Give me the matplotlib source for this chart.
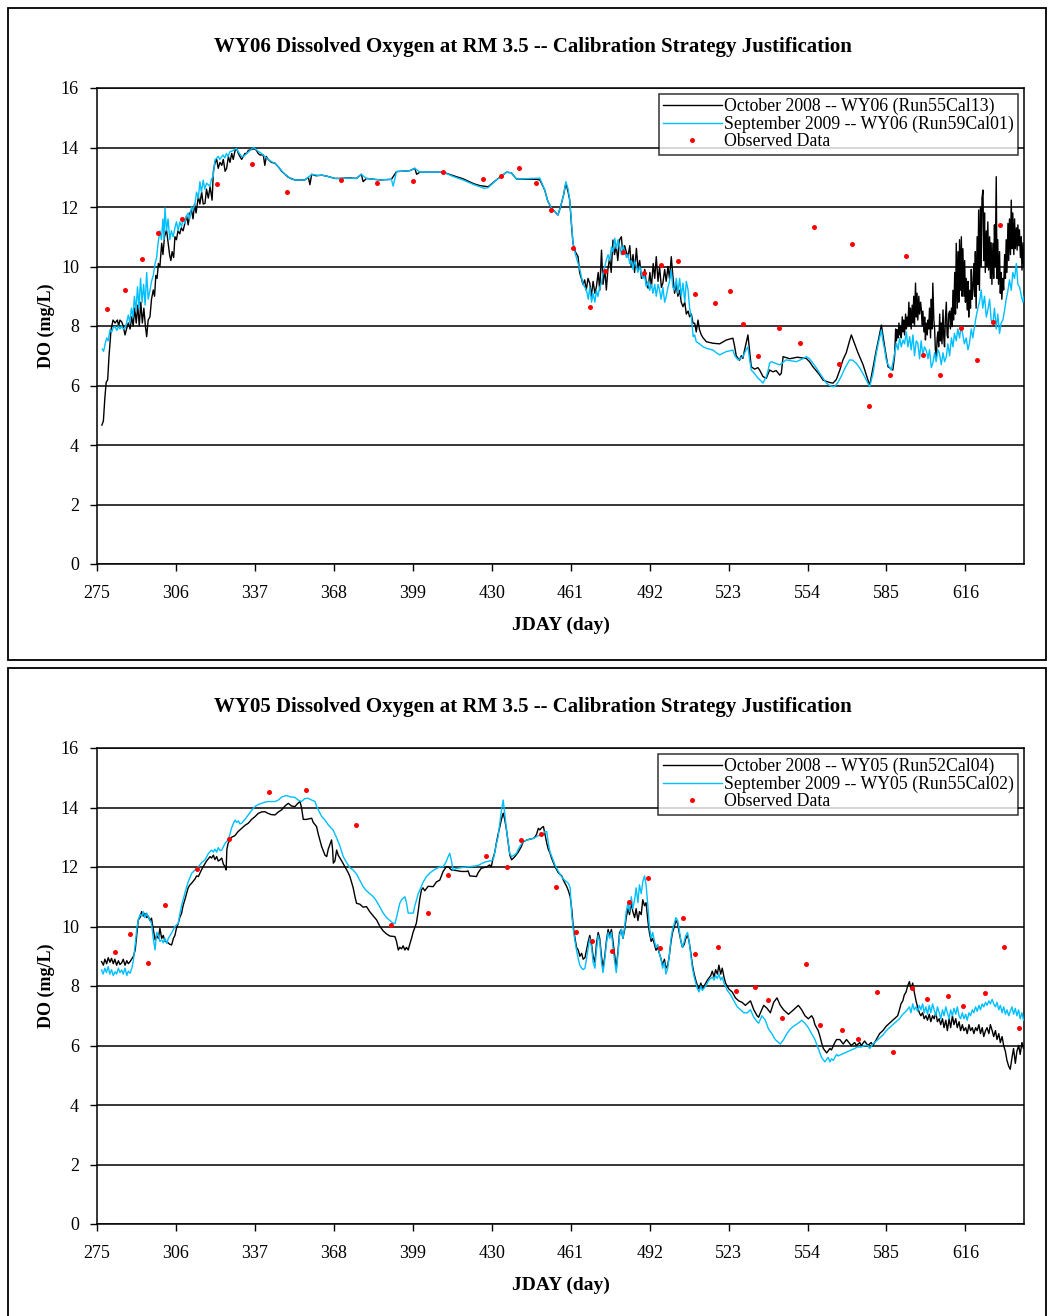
import numpy as np
import matplotlib
matplotlib.use("Agg")
import matplotlib.pyplot as plt
from matplotlib.patches import Rectangle

plt.rcParams['font.family'] = ['Liberation Serif', 'DejaVu Serif']

# ---- WY06 panel (top) ----
# (day, DO mg/L)
wy06_oct = [
    (276.9, 4.67), (277.5, 4.8), (278.1, 5.6), (278.6, 6.1), (279.2, 6.2), (279.7, 6.97), (280.5, 7.87),
    (281.3, 8.2), (282.1, 8.1), (283.0, 8.2), (283.5, 8.0), (284.0, 8.2), (284.7, 8.14), (285.3, 8.0),
    (286.0, 7.7), (286.6, 7.9), (287.3, 8.1), (288.0, 7.9), (288.6, 8.31), (289.2, 8.0), (289.8, 8.6),
    (290.4, 8.1), (291.0, 8.7), (291.6, 8.0), (292.2, 8.8), (292.8, 8.1), (293.4, 8.6), (294.0, 8.0),
    (294.5, 7.64), (295.1, 8.2), (295.8, 8.31), (296.4, 8.9), (297.1, 9.21), (297.6, 9.0), (298.1, 9.7),
    (298.6, 9.6), (299.1, 10.1), (299.7, 10.0), (300.4, 10.78), (300.9, 10.4), (301.5, 11.0), (302.3, 11.23),
    (302.9, 10.8), (303.5, 10.4), (304.0, 10.2), (304.5, 10.5), (305.1, 10.3), (305.6, 11.0), (306.2, 10.9),
    (306.8, 11.2), (307.5, 11.1), (308.1, 11.3), (308.8, 11.2), (309.5, 11.45), (310.2, 11.7), (310.8, 11.4),
    (311.5, 11.8), (312.1, 11.9), (312.7, 11.6), (313.3, 12.1), (313.9, 11.8), (314.8, 12.35), (315.4, 12.1),
    (316.1, 12.5), (316.7, 12.1), (317.4, 12.12), (318.0, 12.6), (318.7, 12.3), (319.4, 12.68), (320.2, 12.23),
    (320.7, 13.2), (321.3, 13.47), (322.0, 13.6), (322.6, 13.3), (323.3, 13.5), (324.0, 13.4), (324.6, 13.6),
    (325.3, 13.2), (325.9, 13.3), (326.6, 13.7), (327.2, 13.5), (327.9, 13.8), (328.5, 13.6), (329.2, 13.9),
    (329.8, 13.97), (330.5, 13.8), (331.1, 13.7), (331.8, 13.6), (332.4, 13.69), (333.1, 13.8), (333.8, 13.8),
    (334.4, 13.9), (336.3, 13.95), (337.0, 13.95), (337.6, 13.9), (338.3, 13.8), (339.0, 13.75), (340.3, 13.75),
    (340.9, 13.4), (341.5, 13.7), (342.2, 13.6), (343.5, 13.5), (344.9, 13.47), (346.2, 13.35), (347.5, 13.2),
    (348.8, 13.1), (350.1, 13.0), (351.4, 12.95), (352.7, 12.91), (355.3, 12.91), (356.6, 12.91), (358.0, 13.0),
    (358.6, 12.75), (359.3, 13.1), (361.0, 13.05), (363.2, 13.07), (365.1, 13.04), (368.4, 12.96), (370.4, 12.96),
    (374.0, 12.98), (376.9, 12.96), (378.8, 13.1), (379.5, 12.85), (380.8, 12.96), (386.1, 12.91), (390.6, 12.93),
    (392.6, 13.19), (397.8, 13.22), (399.8, 13.3), (400.5, 13.1), (401.8, 13.17), (410.9, 13.17), (415.0, 13.05),
    (418.7, 12.95), (423.0, 12.78), (425.3, 12.72), (428.6, 12.68), (431.8, 12.91), (435.8, 13.17), (437.7, 13.15),
    (439.7, 12.94), (447.5, 12.93), (448.9, 12.91), (450.8, 12.57), (452.0, 12.2), (453.5, 11.96), (456.0, 11.73),
    (457.0, 12.0), (458.2, 12.4), (459.1, 12.8), (460.0, 12.5), (460.6, 12.24), (461.4, 11.3), (461.9, 10.78),
    (462.8, 10.5), (463.9, 10.33), (464.5, 9.8), (465.2, 9.6), (465.8, 9.4), (466.5, 9.55), (467.1, 9.2),
    (467.8, 9.6), (468.5, 9.44), (469.1, 9.0), (469.8, 9.5), (470.5, 9.1), (471.1, 9.32), (471.8, 9.8),
    (472.4, 9.2), (473.1, 10.55), (473.7, 9.4), (474.4, 9.9), (475.0, 9.21), (475.6, 9.9), (476.3, 10.3),
    (476.9, 9.8), (477.6, 10.89), (478.2, 10.4), (478.9, 10.7), (479.5, 10.2), (480.2, 10.9), (480.9, 11.0),
    (481.5, 10.4), (482.2, 10.7), (482.8, 10.5), (483.5, 10.33), (484.2, 10.7), (484.8, 10.0), (485.5, 10.4),
    (486.1, 9.8), (486.8, 10.61), (487.5, 9.9), (488.1, 10.2), (488.8, 9.6), (489.4, 9.66), (490.1, 9.9),
    (490.7, 9.4), (491.4, 9.27), (492.1, 9.8), (492.7, 9.3), (493.4, 10.1), (494.0, 9.6), (494.6, 10.33),
    (495.3, 9.5), (495.9, 10.0), (496.6, 9.3), (497.2, 9.44), (497.9, 9.9), (498.5, 9.5), (499.2, 10.0),
    (499.8, 9.6), (500.5, 10.33), (501.1, 9.7), (501.8, 9.1), (502.4, 9.4), (503.1, 9.0), (503.8, 9.2),
    (504.4, 8.8), (505.1, 8.65), (505.8, 8.8), (506.4, 8.4), (507.1, 8.5), (507.7, 8.31), (508.4, 8.4),
    (509.0, 8.1), (509.7, 8.09), (510.3, 7.8), (511.0, 8.2), (511.6, 7.87), (512.3, 7.7), (513.0, 7.6),
    (514.3, 7.47), (516.9, 7.42), (519.5, 7.4), (522.1, 7.53), (524.7, 7.59), (525.4, 7.3), (526.0, 7.0),
    (527.3, 6.85), (528.0, 7.0), (528.6, 6.91), (529.3, 7.2), (530.6, 7.7), (531.2, 7.2), (531.9, 6.63),
    (533.2, 6.55), (534.5, 6.6), (535.2, 6.52), (536.5, 6.3), (537.8, 6.24), (539.1, 6.52), (540.4, 6.46),
    (541.7, 6.5), (543.1, 6.35), (543.7, 6.41), (544.4, 6.97), (547.0, 6.9), (550.0, 6.95), (553.5, 6.91),
    (554.8, 6.8), (556.1, 6.63), (557.4, 6.5), (558.8, 6.35), (560.1, 6.18), (562.7, 6.1), (564.0, 6.08),
    (565.3, 6.2), (566.6, 6.5), (567.9, 6.86), (569.2, 7.1), (570.5, 7.5), (571.2, 7.7), (572.5, 7.4),
    (573.8, 7.1), (575.8, 6.7), (577.7, 6.18), (578.4, 6.0), (579.7, 6.6), (581.0, 7.19), (582.0, 7.6),
    (583.0, 8.03), (583.6, 7.7), (584.3, 7.3), (585.6, 6.63), (587.5, 6.52), (588.2, 7.0), (588.6, 7.9),
    (588.9, 7.5), (589.2, 7.87), (589.5, 7.6), (589.9, 8.1), (590.2, 7.7), (590.5, 8.0), (590.8, 7.6),
    (591.2, 8.31), (591.5, 7.8), (591.8, 8.2), (592.1, 7.7), (592.5, 8.4), (592.8, 7.9), (593.1, 8.3),
    (593.4, 7.98), (593.8, 8.8), (594.1, 8.0), (594.4, 8.6), (594.7, 7.9), (595.1, 8.7), (595.4, 8.1),
    (595.7, 9.0), (596.0, 8.0), (596.4, 9.44), (596.7, 8.3), (597.0, 9.1), (597.3, 8.2), (597.7, 9.0),
    (598.0, 8.4), (598.4, 8.8), (598.7, 8.54), (599.0, 8.0), (599.3, 8.5), (599.7, 7.8), (600.0, 8.3),
    (600.3, 7.53), (600.6, 8.1), (601.0, 7.7), (601.3, 8.2), (601.6, 7.9), (601.9, 8.6), (602.3, 7.6),
    (602.6, 8.9), (602.9, 7.9), (603.2, 9.44), (603.6, 8.2), (603.9, 7.9), (604.2, 7.2), (604.6, 6.97),
    (604.9, 7.6), (605.2, 7.8), (605.5, 7.3), (605.9, 8.4), (606.2, 7.5), (606.5, 8.1), (606.8, 7.4),
    (607.2, 8.54), (607.5, 7.6), (607.8, 7.3), (608.1, 8.2), (608.5, 8.8), (608.8, 7.7), (609.1, 7.6),
    (609.4, 8.4), (609.8, 8.5), (610.1, 7.9), (610.5, 8.6), (610.8, 7.98), (611.1, 9.2), (611.4, 8.2),
    (611.8, 9.8), (612.1, 8.4), (612.4, 10.78), (612.8, 8.6), (613.1, 10.5), (613.4, 8.8), (613.7, 10.9),
    (614.1, 9.2), (614.4, 11.0), (614.7, 9.0), (615.0, 10.6), (615.4, 9.0), (615.7, 10.2), (616.0, 8.8),
    (616.3, 9.6), (616.7, 8.54), (617.0, 9.5), (617.3, 8.3), (617.6, 9.2), (618.0, 8.6), (618.3, 9.9),
    (618.6, 8.9), (618.9, 9.21), (619.3, 10.1), (619.6, 9.0), (619.9, 10.5), (620.2, 8.6), (620.6, 11.0),
    (620.9, 9.4), (621.2, 11.9), (621.5, 9.2), (621.9, 12.0), (622.2, 10.0), (622.5, 12.3), (622.9, 12.57),
    (623.2, 10.2), (623.5, 11.8), (623.8, 9.8), (624.2, 11.2), (624.5, 10.0), (624.8, 11.5), (625.1, 9.88),
    (625.5, 11.0), (625.8, 9.6), (626.1, 10.8), (626.4, 9.4), (626.8, 10.78), (627.1, 9.6), (627.4, 11.4),
    (627.7, 10.0), (628.1, 13.02), (628.4, 9.6), (628.7, 10.9), (629.0, 9.4), (629.4, 10.5), (629.7, 9.1),
    (630.0, 9.8), (630.3, 8.9), (630.7, 9.6), (631.0, 9.21), (631.4, 10.4), (631.7, 9.6), (632.0, 10.9),
    (632.3, 9.8), (632.7, 11.45), (633.0, 10.2), (633.3, 11.6), (633.7, 10.4), (634.0, 12.23), (634.3, 10.6),
    (634.6, 11.8), (635.0, 10.4), (635.3, 11.6), (635.6, 10.6), (636.0, 11.3), (636.3, 10.55), (636.6, 11.4),
    (636.9, 10.7), (637.2, 11.23), (637.6, 10.3), (637.9, 11.0), (638.2, 9.88), (638.6, 10.8), (638.9, 10.0),
]

wy06_sep = [
    (277.1, 7.22), (277.6, 7.15), (278.2, 7.4), (278.8, 7.6), (279.4, 7.5), (280.1, 7.87), (280.8, 7.8),
    (281.4, 7.95), (282.1, 7.98), (282.8, 7.85), (283.4, 8.0), (284.0, 7.9), (284.7, 8.0), (285.3, 7.9),
    (286.0, 7.93), (286.6, 8.1), (287.3, 8.37), (287.9, 8.1), (288.5, 8.6), (289.1, 8.3), (289.7, 9.0),
    (290.3, 8.5), (290.9, 9.32), (291.5, 8.6), (292.1, 9.6), (292.7, 8.8), (293.3, 9.4), (293.9, 8.7),
    (294.5, 9.8), (295.1, 8.9), (295.8, 9.2), (296.4, 9.5), (297.1, 9.7), (297.8, 10.1), (298.4, 10.3),
    (299.0, 10.8), (299.7, 11.2), (300.3, 10.9), (300.9, 11.6), (301.3, 10.9), (301.7, 11.97), (302.3, 11.2),
    (302.9, 11.6), (303.6, 10.9), (304.2, 11.2), (304.9, 11.0), (305.6, 11.3), (306.2, 11.5), (306.9, 11.2),
    (307.5, 11.5), (308.2, 11.34), (308.8, 11.6), (309.5, 11.45), (310.1, 11.7), (310.8, 11.8), (311.4, 11.6),
    (312.1, 12.0), (312.7, 11.9), (313.5, 12.13), (314.1, 12.5), (314.8, 12.3), (315.4, 12.85), (316.0, 12.5),
    (316.7, 12.9), (317.3, 12.6), (318.0, 12.8), (319.3, 12.7), (320.0, 12.95), (320.6, 13.02), (321.3, 13.58),
    (322.6, 13.7), (323.2, 13.6), (324.5, 13.75), (325.2, 13.65), (325.8, 13.8), (326.5, 13.7), (327.1, 13.85),
    (328.5, 13.9), (329.8, 13.97), (330.5, 13.85), (331.8, 13.7), (332.4, 13.69), (333.8, 13.8), (335.1, 13.9),
    (336.4, 14.0), (337.0, 13.97), (338.3, 13.87), (339.6, 13.8), (340.9, 13.7), (342.3, 13.6), (343.6, 13.52),
    (344.9, 13.47), (346.2, 13.35), (347.5, 13.22), (348.8, 13.1), (350.1, 13.02), (351.4, 12.93), (352.7, 12.91),
    (356.6, 12.91), (358.0, 13.0), (359.3, 13.1), (361.9, 13.06), (363.2, 13.07), (365.1, 13.04), (368.4, 12.96),
    (370.4, 12.96), (374.0, 12.97), (376.9, 12.96), (378.8, 13.1), (380.8, 12.96), (386.1, 12.91), (390.6, 12.93),
    (391.3, 12.7), (392.6, 13.19), (397.8, 13.22), (399.8, 13.3), (401.8, 13.17), (410.9, 13.17), (415.0, 13.02),
    (418.7, 12.91), (423.0, 12.75), (425.3, 12.68), (427.0, 12.63), (428.6, 12.65), (431.8, 12.91), (435.8, 13.17),
    (437.7, 13.15), (439.7, 12.94), (448.9, 12.97), (450.8, 12.57), (452.0, 12.2), (453.5, 11.96), (456.0, 11.73),
    (457.0, 12.0), (458.2, 12.4), (459.1, 12.85), (460.0, 12.6), (460.6, 12.24), (461.3, 11.5), (461.9, 10.78),
    (462.9, 10.4), (463.9, 10.1), (464.6, 9.9), (465.2, 9.66), (465.9, 9.4), (466.6, 9.3), (467.2, 9.21),
    (467.9, 8.9), (468.5, 9.3), (469.2, 8.8), (469.8, 9.1), (470.5, 8.8), (471.1, 9.2), (471.7, 8.99),
    (472.4, 9.3), (473.1, 9.44), (473.7, 9.8), (474.4, 10.0), (475.0, 10.22), (475.7, 10.4), (476.3, 10.2),
    (477.0, 10.66), (477.6, 10.5), (478.3, 10.95), (478.9, 10.6), (479.6, 10.9), (480.3, 10.66), (480.9, 10.4),
    (481.6, 10.7), (482.2, 10.5), (482.9, 10.3), (483.5, 10.4), (484.2, 10.1), (484.8, 10.2), (485.5, 9.9),
    (486.1, 10.2), (486.8, 10.0), (487.4, 9.8), (488.1, 10.0), (488.7, 9.77), (489.4, 9.6), (490.0, 9.7),
    (490.7, 9.32), (491.4, 9.5), (492.0, 9.2), (492.7, 9.4), (493.3, 9.1), (494.0, 9.4), (494.6, 9.0),
    (495.3, 9.4), (495.9, 9.21), (496.5, 8.9), (497.2, 9.3), (497.9, 8.8), (498.5, 8.99), (499.2, 9.3),
    (499.8, 9.5), (500.5, 9.88), (501.1, 9.3), (501.8, 9.21), (502.5, 9.6), (503.1, 9.1), (503.8, 9.6),
    (504.4, 9.0), (505.1, 9.44), (505.8, 8.8), (506.4, 9.5), (507.1, 9.21), (507.7, 8.6), (508.4, 8.3),
    (509.1, 7.64), (509.7, 7.7), (510.3, 7.47), (511.6, 7.4), (513.0, 7.3), (514.3, 7.25), (516.9, 7.19),
    (518.2, 7.1), (519.5, 7.03), (522.1, 7.14), (524.7, 7.19), (525.4, 7.0), (526.7, 6.86), (528.6, 6.97),
    (529.9, 7.2), (530.6, 7.3), (531.2, 6.9), (531.9, 6.52), (533.2, 6.4), (534.5, 6.25), (535.8, 6.15),
    (536.5, 6.08), (537.8, 6.3), (538.5, 6.5), (539.1, 6.75), (539.8, 6.8), (543.1, 6.69), (545.6, 6.86),
    (549.6, 6.8), (552.2, 6.9), (553.5, 6.97), (554.8, 6.9), (556.1, 6.75), (557.4, 6.6), (558.8, 6.41),
    (560.1, 6.25), (561.4, 6.08), (562.7, 6.0), (564.0, 5.96), (564.6, 5.96), (565.9, 6.1), (567.2, 6.3),
    (568.5, 6.55), (569.8, 6.75), (570.5, 6.86), (571.8, 6.85), (573.1, 6.75), (574.4, 6.6), (575.7, 6.41),
    (577.0, 6.2), (578.4, 5.96), (579.7, 6.4), (581.0, 7.08), (582.0, 7.5), (583.0, 7.87), (583.6, 7.5),
    (584.3, 7.2), (584.9, 6.86), (585.6, 6.7), (586.9, 6.52), (587.6, 6.8), (588.2, 7.1), (588.9, 7.42),
    (589.5, 7.2), (590.2, 7.6), (590.8, 7.3), (591.5, 7.53), (592.1, 7.4), (592.8, 7.8), (593.4, 7.3),
    (594.1, 7.64), (594.7, 7.2), (595.4, 7.7), (596.0, 7.0), (596.7, 7.5), (597.3, 7.42), (598.0, 6.9),
    (598.6, 7.5), (599.3, 7.0), (599.9, 7.3), (600.6, 7.19), (601.3, 6.9), (601.9, 7.2), (602.6, 6.6),
    (603.2, 6.75), (603.9, 7.1), (604.5, 6.8), (605.2, 7.2), (605.8, 7.08), (606.5, 6.7), (607.2, 7.1),
    (607.8, 6.8), (608.5, 6.97), (609.1, 7.4), (609.8, 7.0), (610.5, 7.6), (611.1, 7.3), (611.7, 7.75),
    (612.4, 7.5), (613.0, 7.9), (613.7, 7.6), (614.3, 7.98), (615.0, 7.7), (615.6, 7.4), (616.3, 7.6),
    (617.0, 7.2), (617.6, 7.42), (618.3, 7.9), (618.9, 7.6), (619.6, 8.0), (620.2, 8.31), (620.9, 8.6),
    (621.5, 8.8), (622.2, 9.21), (622.8, 8.6), (623.5, 9.0), (624.2, 8.3), (624.8, 8.54), (625.5, 8.9),
    (626.1, 8.2), (626.8, 8.09), (627.4, 8.6), (628.1, 7.9), (628.7, 8.4), (629.4, 7.75), (630.0, 8.1),
    (630.7, 8.2), (631.4, 8.54), (632.0, 8.9), (632.7, 9.2), (633.3, 9.55), (634.0, 9.2), (634.6, 9.8),
    (635.3, 9.6), (636.0, 10.1), (636.6, 9.4), (637.3, 9.3), (638.0, 8.99), (638.6, 8.8), (639.0, 9.0),
]

wy06_obs_day = [278.9, 286.0, 292.7, 298.9, 308.4, 322.1, 335.8, 349.6, 370.8, 384.9, 399.0, 410.8,
                426.5, 433.6, 440.6, 447.3, 453.2, 461.8, 468.5, 474.4, 481.4, 489.7, 496.4, 503.0,
                509.7, 517.5, 523.4, 528.5, 534.4, 542.7, 550.9, 556.4, 566.2, 571.3, 578.0, 586.2,
                592.5, 599.2, 606.2, 614.1, 620.4, 627.0, 629.4]
wy06_obs_do = [8.57, 9.21, 10.25, 11.13, 11.6, 12.77, 13.45, 12.5, 12.9, 12.8, 12.87, 13.18,
               12.94, 13.04, 13.31, 12.81, 11.9, 10.62, 8.64, 9.85, 10.49, 9.78, 10.05, 10.18,
               9.08, 8.77, 9.18, 8.07, 6.99, 7.93, 7.43, 11.33, 6.72, 10.76, 5.31, 6.35,
               10.35, 7.03, 6.35, 7.93, 6.86, 8.13, 11.39]

# ---- WY05 panel (bottom) ----
wy05_oct = [
    (276.8, 8.82), (277.5, 8.7), (278.1, 8.9), (278.8, 8.75), (279.4, 8.95), (280.1, 8.8), (280.7, 8.93),
    (281.4, 8.75), (282.0, 8.9), (282.7, 8.7), (283.4, 8.85), (284.0, 8.72), (284.7, 8.78), (285.3, 8.9),
    (286.0, 8.7), (286.7, 8.85), (287.3, 8.75), (288.0, 8.82), (288.6, 8.9), (289.3, 9.0), (290.0, 9.21),
    (290.6, 9.7), (291.2, 10.22), (291.9, 10.3), (292.5, 10.5), (293.2, 10.35), (293.8, 10.44), (294.5, 10.3),
    (295.1, 10.35), (295.8, 10.2), (296.4, 10.28), (297.1, 9.9), (297.8, 9.55), (298.4, 9.7), (299.1, 9.6),
    (299.7, 9.94), (300.4, 9.6), (301.0, 9.7), (301.7, 9.5), (302.4, 9.49), (303.6, 9.4), (304.3, 9.38),
    (305.0, 9.6), (305.6, 9.7), (306.2, 9.94), (306.9, 10.1), (307.5, 10.3), (308.2, 10.44), (308.8, 10.7),
    (309.5, 10.9), (310.2, 11.12), (310.8, 11.3), (311.5, 11.4), (312.1, 11.45), (313.5, 11.6), (314.1, 11.7),
    (314.8, 11.68), (316.0, 11.9), (316.7, 12.01), (318.0, 12.2), (319.4, 12.35), (320.0, 12.3), (320.7, 12.4),
    (321.3, 12.25), (322.0, 12.35), (322.6, 12.2), (323.3, 12.24), (324.0, 12.3), (324.6, 12.1), (325.3, 12.01),
    (325.7, 11.9), (326.0, 12.6), (326.5, 12.8), (327.8, 13.0), (329.1, 13.05), (330.4, 13.19), (331.8, 13.3),
    (333.1, 13.4), (334.4, 13.47), (335.7, 13.6), (337.0, 13.69), (338.3, 13.8), (339.6, 13.85), (340.9, 13.86),
    (342.2, 13.8), (343.5, 13.76), (344.9, 13.75), (346.2, 13.85), (347.5, 13.92), (348.8, 14.05), (350.1, 14.14),
    (351.4, 14.05), (352.7, 14.03), (354.0, 14.15), (354.7, 14.2), (355.3, 14.0), (356.0, 13.6), (357.3, 13.6),
    (359.3, 13.64), (359.9, 13.5), (361.2, 13.36), (361.9, 13.1), (363.2, 12.69), (364.5, 12.4), (365.2, 12.35),
    (365.8, 12.6), (367.1, 12.91), (367.5, 12.6), (367.8, 12.13), (368.4, 12.2), (369.1, 12.57), (369.7, 12.4),
    (371.1, 12.2), (372.4, 12.0), (373.7, 11.8), (374.3, 11.68), (375.6, 11.3), (376.3, 11.0), (376.9, 10.78),
    (378.2, 10.75), (379.5, 10.65), (380.8, 10.67), (382.1, 10.5), (383.5, 10.35), (384.8, 10.22), (386.1, 10.0),
    (387.4, 9.85), (388.7, 9.75), (390.0, 9.68), (392.0, 9.66), (392.6, 9.5), (393.3, 9.21), (393.9, 9.3),
    (394.6, 9.25), (395.2, 9.35), (395.9, 9.21), (396.5, 9.3), (397.2, 9.21), (397.8, 9.4), (398.5, 9.6),
    (399.1, 9.8), (400.4, 10.11), (401.1, 10.5), (401.7, 10.9), (402.4, 11.23), (403.0, 11.3), (403.7, 11.2),
    (405.0, 11.35), (407.0, 11.34), (408.3, 11.5), (409.6, 11.56), (410.9, 11.85), (412.2, 12.01), (412.9, 12.01),
    (414.2, 11.9), (416.1, 11.88), (418.1, 11.85), (420.1, 11.85), (420.7, 11.87), (421.4, 11.7), (424.0, 11.68),
    (424.6, 11.8), (425.9, 11.96), (427.9, 12.0), (429.2, 12.07), (429.8, 12.0), (430.5, 12.29), (431.2, 12.5),
    (431.8, 12.8), (432.5, 13.1), (433.2, 13.36), (433.8, 13.6), (434.5, 13.81), (435.1, 13.6), (435.8, 13.24),
    (436.5, 12.8), (437.1, 12.4), (437.8, 12.24), (439.1, 12.35), (440.4, 12.5), (441.7, 12.7), (442.4, 12.86),
    (443.7, 12.9), (445.0, 12.94), (446.3, 12.96), (446.9, 13.0), (447.6, 13.1), (448.3, 13.3), (448.9, 13.25),
    (449.6, 13.32), (450.3, 13.36), (450.9, 13.1), (451.6, 12.8), (452.2, 12.6), (452.9, 12.46), (453.5, 12.3),
    (454.9, 12.0), (456.2, 11.8), (457.5, 11.7), (458.1, 11.56), (459.4, 11.35), (460.1, 11.2), (460.8, 11.0),
    (461.4, 10.6), (462.0, 10.0), (462.7, 9.6), (463.3, 9.3), (464.0, 9.2), (464.6, 9.0), (465.3, 9.1),
    (465.9, 8.9), (466.6, 8.95), (467.2, 9.2), (467.9, 9.5), (468.5, 9.7), (469.2, 9.4), (469.8, 9.0),
    (470.5, 8.8), (471.1, 9.4), (471.8, 9.8), (472.4, 9.6), (473.1, 9.0), (473.7, 8.6), (474.4, 9.0),
    (475.0, 9.5), (475.7, 9.9), (476.3, 9.7), (477.0, 9.9), (477.6, 9.5), (478.3, 9.0), (478.9, 8.6),
    (479.6, 9.2), (480.2, 9.8), (480.9, 9.9), (481.5, 9.6), (482.2, 9.9), (482.8, 10.3), (483.5, 10.6),
    (484.1, 10.4), (484.8, 10.8), (485.4, 10.5), (486.1, 10.3), (486.7, 10.6), (487.4, 10.2), (488.0, 10.5),
    (488.7, 10.4), (489.3, 10.9), (490.0, 10.7), (490.6, 10.8), (491.3, 10.2), (491.9, 9.8), (492.6, 9.5),
    (493.2, 9.6), (493.9, 9.4), (494.5, 9.2), (495.2, 9.3), (495.8, 9.1), (496.5, 8.9), (497.1, 8.7),
    (497.8, 8.9), (498.4, 8.6), (499.1, 8.7), (499.7, 9.0), (500.4, 9.5), (501.0, 9.8), (501.7, 10.0),
    (502.3, 10.2), (503.0, 10.1), (503.6, 9.8), (504.3, 9.5), (504.9, 9.3), (505.6, 9.4), (506.2, 9.6),
    (506.9, 9.7), (507.5, 9.5), (508.2, 9.1), (508.8, 8.7), (509.5, 8.4), (510.1, 8.2), (510.8, 8.0),
    (511.4, 7.9), (512.1, 8.1), (512.7, 7.9), (513.4, 8.0), (514.7, 8.2), (516.0, 8.35), (516.6, 8.5),
    (517.3, 8.3), (517.9, 8.55), (518.6, 8.4), (519.2, 8.7), (519.9, 8.4), (520.5, 8.6), (521.2, 8.3),
    (521.8, 8.1), (523.1, 7.9), (524.4, 7.8), (525.7, 7.6), (527.0, 7.5), (528.3, 7.45), (529.6, 7.35),
    (530.9, 7.45), (531.6, 7.5), (532.9, 7.2), (534.2, 7.0), (534.8, 6.95), (535.5, 7.1), (536.8, 7.35),
    (538.1, 7.25), (539.4, 7.1), (540.7, 7.45), (542.0, 7.6), (543.3, 7.35), (544.6, 7.2), (546.5, 7.05),
    (548.5, 7.2), (550.4, 7.35), (551.7, 7.2), (553.0, 7.0), (554.3, 6.9), (555.6, 7.0), (556.3, 6.9),
    (556.9, 6.7), (558.2, 6.5), (558.9, 6.3), (559.5, 6.1), (560.2, 5.9), (561.5, 5.75), (562.8, 5.9),
    (563.4, 5.85), (564.7, 6.1), (565.4, 6.2), (566.7, 6.2), (568.0, 6.05), (569.3, 6.2), (571.2, 6.0),
    (572.5, 6.1), (573.2, 6.0), (574.5, 6.1), (575.1, 6.0), (576.4, 6.15), (577.7, 6.0), (579.0, 6.1),
    (579.7, 6.0), (581.0, 6.2), (582.3, 6.4), (583.6, 6.5), (584.9, 6.65), (586.2, 6.75), (587.5, 6.85),
    (588.8, 6.95), (589.4, 7.0), (590.1, 7.2), (590.7, 7.4), (591.4, 7.5), (592.0, 7.7), (592.7, 7.8),
    (593.3, 8.0), (594.0, 8.15), (594.6, 7.9), (595.3, 8.1), (595.9, 7.8), (596.6, 7.5), (597.2, 7.3),
    (597.9, 7.1), (598.5, 7.0), (599.2, 7.1), (599.8, 6.9), (600.5, 7.0), (601.1, 6.85), (601.8, 7.05),
    (602.4, 6.8), (603.1, 7.0), (603.7, 6.9), (604.4, 7.1), (605.0, 6.8), (605.7, 6.9), (606.3, 6.7),
    (607.0, 6.9), (607.6, 6.6), (608.3, 6.85), (608.9, 6.5), (609.6, 6.9), (610.2, 6.6), (610.9, 7.0),
    (611.5, 6.7), (612.2, 6.9), (612.8, 6.6), (613.5, 6.8), (614.1, 6.5), (614.8, 6.7), (615.4, 6.5),
    (616.1, 6.6), (616.7, 6.4), (617.4, 6.7), (618.0, 6.5), (618.7, 6.6), (619.3, 6.4), (620.0, 6.6),
    (620.6, 6.5), (621.3, 6.7), (621.9, 6.4), (622.6, 6.6), (623.2, 6.3), (623.9, 6.5), (624.5, 6.6),
    (625.2, 6.4), (625.8, 6.7), (626.5, 6.5), (627.1, 6.3), (627.8, 6.5), (628.4, 6.2), (629.1, 6.4),
    (629.7, 6.1), (630.4, 6.3), (631.0, 6.0), (631.7, 5.8), (632.3, 5.5), (633.0, 5.3), (633.6, 5.2),
    (634.3, 5.6), (634.9, 5.9), (635.6, 5.4), (636.2, 5.8), (636.9, 6.0), (637.5, 5.7), (638.2, 6.1),
    (638.8, 5.9),
]

wy05_sep = [
    (276.8, 8.54), (277.4, 8.4), (278.1, 8.6), (278.7, 8.45), (279.4, 8.65), (280.0, 8.4), (280.7, 8.55),
    (281.4, 8.35), (282.1, 8.48), (282.7, 8.4), (283.4, 8.6), (284.0, 8.45), (284.7, 8.54), (285.3, 8.4),
    (286.0, 8.6), (286.7, 8.35), (287.3, 8.5), (288.0, 8.43), (288.7, 8.6), (289.3, 8.87), (290.0, 9.4),
    (290.6, 9.9), (291.2, 10.22), (291.9, 10.4), (292.5, 10.35), (293.2, 10.5), (293.8, 10.3), (294.5, 10.45),
    (295.1, 10.34), (295.8, 10.2), (296.4, 10.11), (297.1, 9.6), (297.8, 9.21), (298.4, 9.8), (299.1, 9.71),
    (299.7, 9.5), (300.4, 9.55), (301.0, 9.45), (301.7, 9.6), (302.4, 9.43), (303.0, 9.6), (304.3, 9.78),
    (305.6, 10.0), (306.9, 10.11), (307.5, 10.4), (308.2, 10.7), (309.5, 11.12), (310.8, 11.5), (312.2, 11.79),
    (313.5, 11.9), (314.8, 12.01), (316.1, 12.15), (317.4, 12.24), (318.7, 12.45), (320.0, 12.57), (320.7, 12.5),
    (321.3, 12.6), (322.0, 12.5), (322.6, 12.65), (323.3, 12.55), (324.0, 12.57), (325.3, 12.8), (326.5, 12.91),
    (327.2, 13.1), (327.8, 13.3), (328.5, 13.45), (329.2, 13.58), (329.8, 13.5), (330.5, 13.55), (331.1, 13.45),
    (331.8, 13.47), (333.1, 13.6), (334.4, 13.75), (335.7, 13.9), (337.0, 14.03), (338.3, 14.1), (339.6, 14.14),
    (340.9, 14.18), (342.2, 14.2), (344.9, 14.2), (346.2, 14.25), (347.5, 14.35), (348.8, 14.39), (349.4, 14.4),
    (350.8, 14.36), (352.7, 14.34), (354.0, 14.25), (355.3, 14.2), (356.6, 14.3), (357.9, 14.31), (359.3, 14.25),
    (360.6, 14.2), (361.2, 14.05), (361.9, 13.92), (363.2, 13.7), (364.5, 13.58), (365.8, 13.42), (367.1, 13.3),
    (367.7, 13.24), (369.0, 13.0), (370.4, 12.7), (371.7, 12.35), (373.0, 12.15), (374.3, 11.98), (375.6, 11.9),
    (377.0, 11.75), (378.2, 11.55), (379.5, 11.34), (380.8, 11.2), (382.2, 11.1), (383.5, 11.0), (384.8, 10.85),
    (386.1, 10.65), (387.4, 10.45), (388.7, 10.3), (390.0, 10.2), (391.3, 10.11), (392.0, 10.1), (392.6, 10.3),
    (393.3, 10.55), (393.9, 10.78), (394.6, 10.9), (395.9, 11.0), (396.5, 10.8), (397.2, 10.45), (399.2, 10.45),
    (399.8, 10.7), (400.5, 10.9), (401.1, 11.1), (401.8, 11.23), (403.1, 11.5), (404.4, 11.68), (405.7, 11.8),
    (407.0, 11.88), (408.3, 11.95), (409.6, 12.0), (410.9, 12.01), (411.6, 12.1), (412.2, 12.2), (412.9, 12.35),
    (413.5, 12.46), (414.2, 12.2), (414.8, 11.9), (416.2, 11.95), (418.1, 11.98), (420.1, 12.0), (422.0, 12.02),
    (424.0, 12.04), (425.3, 12.08), (426.6, 12.14), (427.9, 12.18), (429.2, 12.2), (430.6, 12.24), (431.2, 12.5),
    (431.9, 12.8), (432.5, 13.02), (433.2, 13.5), (433.8, 13.9), (434.5, 14.25), (435.1, 13.8), (435.8, 13.24),
    (436.5, 12.8), (437.1, 12.45), (437.8, 12.35), (439.1, 12.42), (439.7, 12.46), (440.4, 12.6), (441.7, 12.78),
    (442.4, 12.86), (443.7, 12.9), (445.0, 12.94), (446.3, 12.96), (447.6, 13.02), (448.9, 13.08), (450.3, 13.13),
    (450.9, 13.19), (451.6, 13.19), (452.2, 12.8), (452.9, 12.5), (453.6, 12.35), (454.9, 12.05), (455.5, 11.96),
    (456.8, 11.75), (458.1, 11.6), (459.4, 11.5), (460.1, 11.45), (460.8, 11.3),
    (461.4, 10.4), (462.0, 9.9), (462.7, 9.5), (463.3, 9.2), (464.0, 8.9), (464.6, 8.7), (465.3, 8.6),
    (465.9, 8.55), (466.6, 8.6), (467.2, 8.9), (467.9, 9.3), (468.5, 9.6), (469.2, 9.3), (469.8, 8.8),
    (470.5, 8.6), (471.1, 9.2), (471.8, 9.7), (472.4, 9.5), (473.1, 8.8), (473.7, 8.45), (474.4, 8.9),
    (475.0, 9.4), (475.7, 9.8), (476.3, 9.6), (477.0, 9.8), (477.6, 9.3), (478.3, 8.8), (478.9, 8.45),
    (479.6, 9.1), (480.2, 9.7), (480.9, 9.9), (481.5, 9.6), (482.2, 10.0), (482.8, 10.5), (483.5, 10.8),
    (484.1, 10.5), (484.8, 11.0), (485.4, 10.6), (486.1, 10.9), (486.7, 11.3), (487.4, 10.8), (488.0, 11.4),
    (488.7, 11.1), (489.3, 11.5), (490.0, 11.7), (490.6, 11.4), (491.3, 10.7), (491.9, 10.0), (492.6, 9.6),
    (493.2, 9.8), (493.9, 9.5), (494.5, 9.3), (495.2, 9.4), (495.8, 9.1), (496.5, 8.9), (497.1, 8.6),
    (497.8, 8.8), (498.4, 8.4), (499.1, 8.6), (499.7, 9.0), (500.4, 9.6), (501.0, 9.9), (501.7, 10.1),
    (502.3, 10.3), (503.0, 10.2), (503.6, 9.9), (504.3, 9.5), (504.9, 9.3), (505.6, 9.5), (506.2, 9.7),
    (506.9, 9.8), (507.5, 9.5), (508.2, 9.0), (508.8, 8.6), (509.5, 8.3), (510.1, 8.1), (510.8, 7.9),
    (511.4, 7.8), (512.1, 8.0), (512.7, 7.85), (514.0, 8.0), (515.3, 8.2), (516.6, 8.3), (517.3, 8.2),
    (517.9, 8.35), (518.6, 8.25), (519.2, 8.4), (519.9, 8.2), (520.5, 8.3), (521.2, 8.1), (522.5, 7.85),
    (523.8, 7.7), (525.1, 7.5), (526.4, 7.3), (527.7, 7.2), (529.0, 7.1), (530.3, 7.1), (531.6, 7.2),
    (532.9, 6.95), (534.2, 6.8), (534.8, 6.75), (536.1, 7.0), (537.4, 6.85), (538.7, 6.55), (540.0, 6.4),
    (541.3, 6.2), (542.6, 6.1), (543.3, 6.05), (544.6, 6.2), (545.9, 6.4), (547.2, 6.55), (548.5, 6.65),
    (549.8, 6.72), (551.1, 6.8), (551.7, 6.85), (553.0, 6.75), (554.3, 6.6), (555.6, 6.4), (556.9, 6.2),
    (558.2, 5.9), (559.5, 5.6), (560.8, 5.45), (562.1, 5.6), (562.8, 5.45), (563.4, 5.55), (564.1, 5.5),
    (565.4, 5.7), (566.0, 5.65), (567.3, 5.7), (568.6, 5.75), (569.9, 5.8), (571.2, 5.85), (572.5, 5.9),
    (573.8, 5.95), (575.1, 5.95), (576.4, 6.0), (577.7, 6.0), (578.4, 5.9), (579.7, 6.05), (581.0, 6.15),
    (582.3, 6.25), (583.6, 6.35), (584.9, 6.5), (586.2, 6.6), (587.5, 6.7), (588.8, 6.8), (590.1, 6.9),
    (591.4, 7.05), (592.7, 7.15), (594.0, 7.3), (594.6, 7.1), (595.3, 7.4), (595.9, 7.2), (596.6, 7.3),
    (597.2, 7.15), (597.9, 7.35), (598.5, 7.2), (599.2, 7.4), (599.8, 7.1), (600.5, 7.3), (601.1, 7.05),
    (601.8, 7.35), (602.4, 7.1), (603.1, 7.4), (603.7, 7.2), (604.4, 7.0), (605.0, 7.3), (605.7, 7.1),
    (606.3, 6.9), (607.0, 7.2), (607.6, 7.0), (608.3, 7.3), (608.9, 7.1), (609.6, 6.9), (610.2, 7.2),
    (610.9, 7.0), (611.5, 7.25), (612.2, 7.05), (612.8, 7.3), (613.5, 7.0), (614.1, 6.9), (614.8, 7.1),
    (615.4, 6.9), (616.1, 7.05), (616.7, 6.85), (617.4, 7.1), (618.0, 7.0), (618.7, 7.2), (619.3, 7.1),
    (620.0, 7.3), (620.6, 7.15), (621.3, 7.35), (621.9, 7.2), (622.6, 7.4), (623.2, 7.3), (623.9, 7.45),
    (624.5, 7.35), (625.2, 7.5), (625.8, 7.4), (626.5, 7.55), (627.1, 7.4), (627.8, 7.3), (628.4, 7.45),
    (629.1, 7.2), (629.7, 7.35), (630.4, 7.1), (631.0, 7.3), (631.7, 7.05), (632.3, 7.2), (633.0, 7.0),
    (633.6, 7.15), (634.3, 7.3), (634.9, 7.05), (635.6, 7.25), (636.2, 7.0), (636.9, 7.2), (637.5, 6.9),
    (638.2, 7.1), (638.8, 6.85),
]

wy05_obs_day = [282.1, 288.0, 294.9, 301.7, 314.1, 326.9, 342.6, 357.0, 376.6, 390.4, 404.8, 412.9,
                427.7, 435.8, 441.5, 449.5, 455.4, 462.9, 469.3, 477.1, 484.0, 491.2, 495.9, 505.0,
                509.7, 518.7, 525.8, 533.3, 538.4, 543.8, 553.3, 558.8, 567.4, 573.7, 581.1, 587.4,
                594.9, 601.1, 609.0, 614.9, 623.5, 631.0, 636.9]
wy05_obs_do = [9.14, 9.74, 8.78, 10.73, 11.92, 12.93, 14.51, 14.6, 13.4, 10.05, 10.45, 11.73,
               12.37, 12.0, 12.92, 13.1, 11.33, 9.81, 9.51, 9.18, 10.82, 11.63, 9.28, 10.29,
               9.08, 9.31, 7.83, 7.97, 7.53, 6.92, 8.74, 6.69, 6.52, 6.22, 7.8, 5.78,
               7.93, 7.56, 7.66, 7.33, 7.76, 9.31, 6.59]

panels = [
    ("WY06 Dissolved Oxygen at RM 3.5 -- Calibration Strategy Justification",
     wy06_oct, wy06_sep, wy06_obs_day, wy06_obs_do,
     "October 2008 -- WY06 (Run55Cal13)", "September 2009 -- WY06 (Run59Cal01)"),
    ("WY05 Dissolved Oxygen at RM 3.5 -- Calibration Strategy Justification",
     wy05_oct, wy05_sep, wy05_obs_day, wy05_obs_do,
     "October 2008 -- WY05 (Run52Cal04)", "September 2009 -- WY05 (Run55Cal02)"),
]

x_ticks = [275, 306, 337, 368, 399, 430, 461, 492, 523, 554, 585, 616]

W, H = 1049, 1316
fig = plt.figure(figsize=(W / 100, H / 100), dpi=100)

# outer chart borders (pixel boxes of the two embedded charts)
for top, bottom in [(8, 660), (668, 1330)]:
    fig.patches.append(Rectangle((8 / W, 1 - bottom / H), (1046 - 8) / W, (bottom - top) / H,
                                 transform=fig.transFigure, fill=False, edgecolor='black', lw=1.3))

ax_tops = [88, 748]
for (title, oct_s, sep_s, obs_d, obs_v, lab1, lab2), ax_top in zip(panels, ax_tops):
    ax = fig.add_axes([97 / W, 1 - (ax_top + 476) / H, 927 / W, 476 / H])
    d1, v1 = zip(*oct_s)
    d2, v2 = zip(*sep_s)
    ax.plot(d1, v1, color='black', lw=1.0, label=lab1, zorder=3)
    ax.plot(d2, v2, color='#00BFFF', lw=1.0, label=lab2, zorder=4)
    ax.plot(obs_d, obs_v, 'o', color='red', ms=3.6, mew=0, label='Observed Data', zorder=5)

    ax.set_xlim(275, 639)
    ax.set_ylim(0, 16)
    ax.set_xticks(x_ticks)
    ax.set_yticks(range(0, 17, 2))
    ax.yaxis.grid(True, color='black', lw=1.1)
    ax.set_axisbelow(True)
    for s in ax.spines.values():
        s.set_color('black')
        s.set_linewidth(1.1)
    ax.tick_params(direction='out', length=5, width=1.0, labelsize=13)
    ax.tick_params(axis='x', pad=10)
    ax.tick_params(axis='y', pad=8)

    ax.set_xlabel("JDAY (day)", fontsize=14, fontweight='bold', labelpad=11)
    ax.set_ylabel("DO (mg/L)", fontsize=13, fontweight='bold', labelpad=4)
    ax.set_title(title, fontsize=15, fontweight='bold', pad=26, x=(533 - 97) / 927)

    leg = ax.legend(loc='upper right', bbox_to_anchor=(0.9935, 0.988), borderaxespad=0,
                    fontsize=12.8, frameon=True, fancybox=False, handlelength=3.3,
                    handletextpad=0.12, labelspacing=0.02, borderpad=0.25)
    leg.get_frame().set_edgecolor('black')
    leg.get_frame().set_linewidth(1.1)

fig.savefig("out.png", dpi=100)
